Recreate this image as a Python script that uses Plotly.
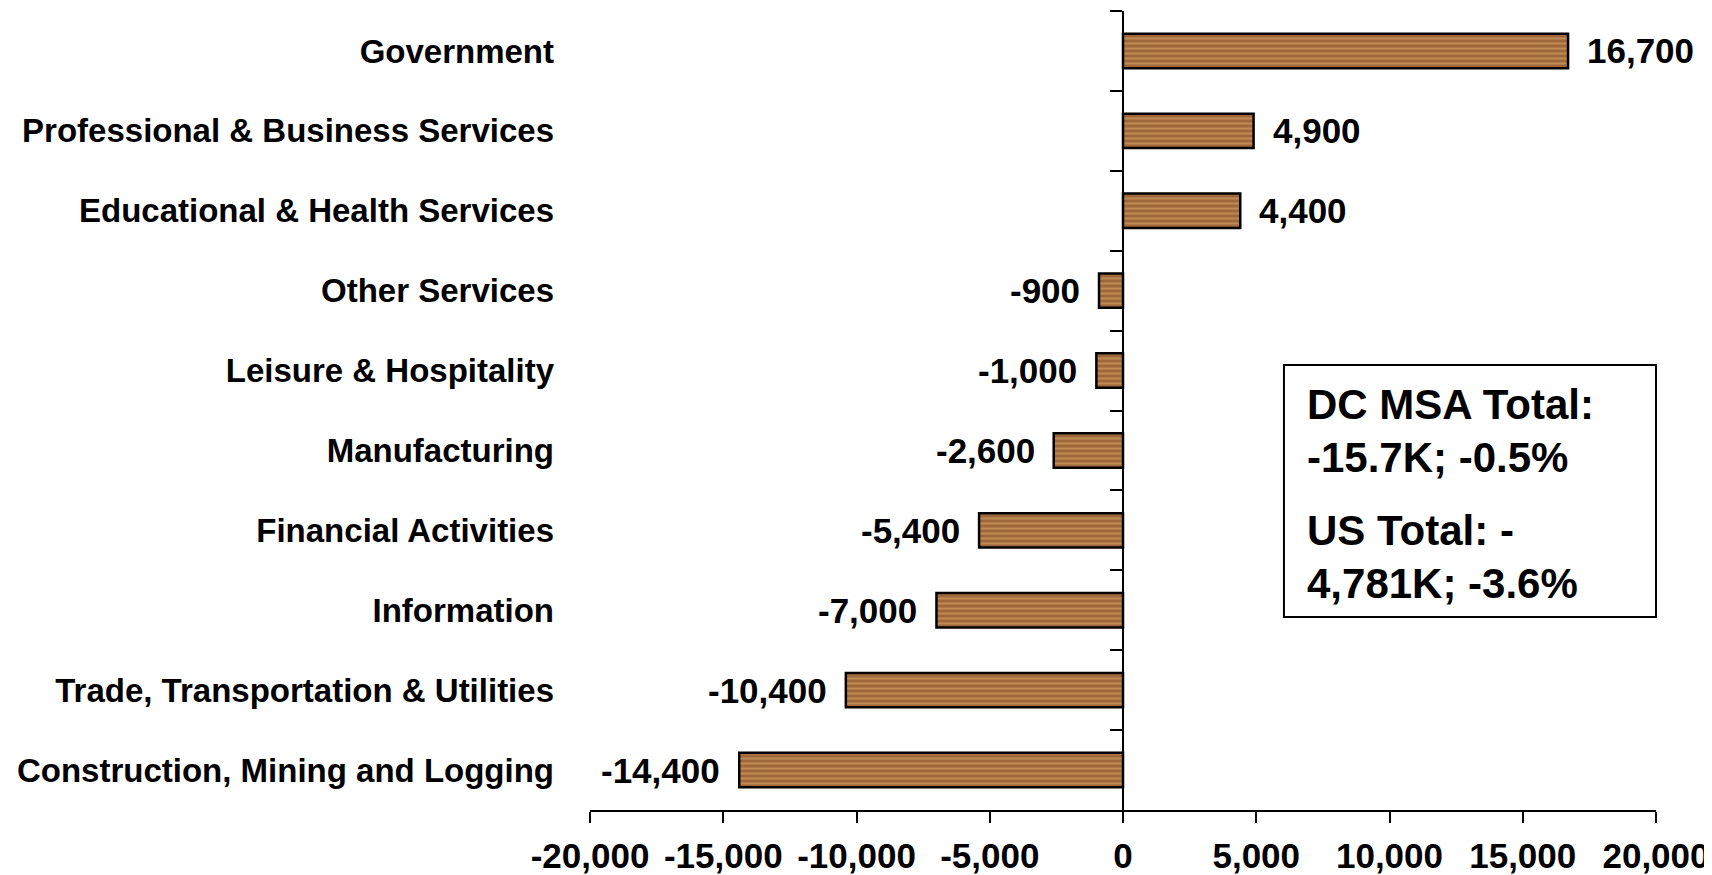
"""
DC MSA employment change by sector - horizontal bar chart
"""
import plotly.graph_objects as go

# sectors listed top to bottom, as in the chart
sectors = [
    'Government',
    'Professional & Business Services',
    'Educational & Health Services',
    'Other Services',
    'Leisure & Hospitality',
    'Manufacturing',
    'Financial Activities',
    'Information',
    'Trade, Transportation & Utilities',
    'Construction, Mining and Logging',
]
job_change = [16700, 4900, 4400, -900, -1000, -2600, -5400, -7000, -10400, -14400]

x_ticks = [-20000, -15000, -10000, -5000, 0, 5000, 10000, 15000, 20000]
x_tick_labels = [f'{v:,}' for v in x_ticks]

box_lines = ['DC MSA Total:', '-15.7K; -0.5%', 'US Total: -', '4,781K; -3.6%']

FONT = 'Liberation Sans, Arial, sans-serif'
WOOD = '#a0683a'

fig = go.Figure()

fig.add_trace(go.Bar(
    x=job_change,
    y=sectors,
    orientation='h',
    marker=dict(
        color=WOOD,
        line=dict(color='black', width=2.5),
        pattern=dict(shape='-', fgcolor='#bf8b55', bgcolor=WOOD,
                     size=5, solidity=0.4, fillmode='replace'),
    ),
    hoverinfo='x+y',
    showlegend=False,
))

# invisible trace so the axis at x=0 carries the category ticks
fig.add_trace(go.Scatter(
    x=[0] * len(sectors),
    y=sectors,
    yaxis='y2',
    mode='markers',
    marker=dict(opacity=0),
    hoverinfo='skip',
    showlegend=False,
))

# value labels beside the bar ends
for name, val in zip(sectors, job_change):
    fig.add_annotation(
        x=val, y=name, xref='x', yref='y',
        text=f'{val:,}',
        showarrow=False,
        xanchor='left' if val >= 0 else 'right',
        xshift=17 if val >= 0 else -17,
        font=dict(family=FONT, size=35, color='black', weight='bold'),
    )

# summary box
fig.add_shape(
    type='rect', xref='paper', yref='paper',
    x0=0.651, x1=1.0, y0=0.2416, y1=0.557,
    line=dict(color='black', width=2), fillcolor='white', layer='above',
)
for txt, yy in zip(box_lines, [0.508, 0.4406, 0.3492, 0.2841]):
    fig.add_annotation(
        x=0.6707, y=yy, xref='paper', yref='paper',
        text=txt, showarrow=False, xanchor='left', yanchor='middle',
        font=dict(family=FONT, size=42, color='black', weight='bold'),
    )

# the page body adds an 8px offset, so the figure is sized 8px smaller
fig.update_layout(
    width=1704,
    height=867,
    margin=dict(l=582, r=56, t=3, b=65),
    paper_bgcolor='white',
    plot_bgcolor='white',
    bargap=0.57,
    font=dict(family=FONT, color='black'),
    xaxis=dict(
        range=[-20000, 20000],
        tickvals=x_ticks,
        ticktext=x_tick_labels,
        showline=True, linecolor='black', linewidth=2,
        ticks='outside', ticklen=11, tickwidth=2, tickcolor='black',
        showgrid=False, zeroline=False,
        tickfont=dict(size=35, weight='bold'),
        ticklabelstandoff=3,
        automargin=False,
    ),
    yaxis=dict(
        type='category',
        categoryorder='array', categoryarray=sectors,
        range=[9.5, -0.5],
        showline=False, showgrid=False, zeroline=False,
        ticks='',
        tickfont=dict(size=33, weight='bold'),
        ticklabelstandoff=35,
        automargin=False,
    ),
    yaxis2=dict(
        type='category',
        categoryorder='array', categoryarray=sectors,
        range=[9.5, -0.5],
        overlaying='y', anchor='free', position=0.5,
        showline=True, linecolor='black', linewidth=2,
        ticks='outside', tickson='boundaries', ticklen=12, tickwidth=2,
        tickcolor='black',
        showticklabels=False, showgrid=False, zeroline=False,
        automargin=False,
    ),
)

fig.write_html('out.html')
